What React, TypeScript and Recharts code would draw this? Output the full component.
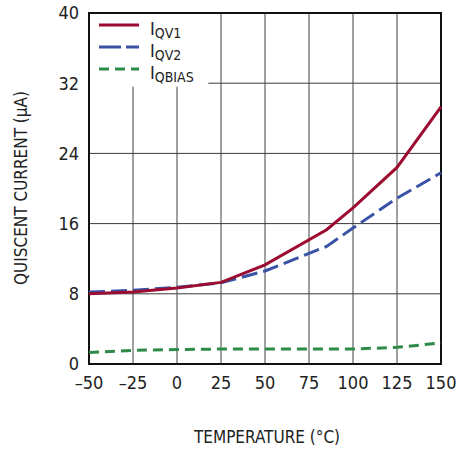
import { LineChart, Line, XAxis, YAxis, CartesianGrid, ReferenceArea } from 'recharts'

const temps = [-50, -25, 0, 25, 50, 85, 100, 125, 150]
const iqv1 = [8.0, 8.2, 8.65, 9.3, 11.3, 15.3, 17.8, 22.4, 29.3]
const iqv2 = [8.2, 8.4, 8.75, 9.25, 10.6, 13.4, 15.5, 18.9, 21.8]
const iqbias = [1.3, 1.55, 1.65, 1.7, 1.7, 1.7, 1.7, 1.9, 2.4]

const xTicks = [-50, -25, 0, 25, 50, 75, 100, 125, 150]
const yTicks = [0, 8, 16, 24, 32, 40]

const FONT = '"DejaVu Sans Condensed", "Liberation Sans", sans-serif'

const RED = '#9c0c30'
const BLUE = '#3a53a6'
const GREEN = '#2f8a47'

const data = temps.map((t, i) => ({ t, qv1: iqv1[i], qv2: iqv2[i], qbias: iqbias[i] }))

const legendRows = [
  { sub: 'QV1', color: RED, dash: undefined },
  { sub: 'QV2', color: BLUE, dash: '22 5' },
  { sub: 'QBIAS', color: GREEN, dash: '10 6' },
]

// legend drawn as an overlay so it doesn't eat into the plot area
function ChartLegend() {
  return (
    <svg width={120} height={72} style={{ position: 'absolute', left: 89, top: 13, display: 'block' }}>
      {legendRows.map((r, i) => {
        const y = 12 + i * 22
        return (
          <g key={r.sub}>
            <line x1={10} x2={50} y1={y} y2={y} stroke={r.color} strokeWidth={3} strokeDasharray={r.dash} />
            <text x={61} y={y + 10} fontFamily={FONT} fontSize={18} fill="#222">
              I
              <tspan fontSize={14} dy={3}>{r.sub}</tspan>
            </text>
          </g>
        )
      })}
    </svg>
  )
}

const fmt = (v: number) => (v < 0 ? '\u2013' + Math.abs(v) : String(v))

export default function App() {
  return (
    <div style={{ position: 'fixed', left: 0, top: 0, width: 456, height: 449, background: '#fff' }}>
      <LineChart width={456} height={449} data={data} margin={{ top: 13, right: 15, left: 0, bottom: 0 }}>
        <CartesianGrid horizontal={false} stroke="#808080" strokeWidth={1.5} />
        <CartesianGrid vertical={false} stroke="#3a3a3a" strokeWidth={1} />
        <XAxis
          dataKey="t"
          type="number"
          domain={[-50, 150]}
          ticks={xTicks}
          tickFormatter={fmt}
          axisLine={false}
          tickLine={false}
          tickSize={0}
          tickMargin={12}
          height={85}
          interval={0}
          tick={{ fontFamily: FONT, fontSize: 18, fill: '#222' }}
          label={{
            content: () => (
              <text x={267} y={443} textAnchor="middle" fontFamily={FONT} fontSize={17} fill="#222">
                TEMPERATURE (°C)
              </text>
            ),
          }}
        />
        <YAxis
          type="number"
          domain={[0, 40]}
          ticks={yTicks}
          axisLine={false}
          tickLine={false}
          tickSize={0}
          tickMargin={10}
          width={89}
          interval={0}
          tick={{ fontFamily: FONT, fontSize: 18, fill: '#222' }}
          label={{
            content: () => (
              <text
                x={0}
                y={0}
                transform="translate(27 188) rotate(-90)"
                textAnchor="middle"
                fontFamily={FONT}
                fontSize={17}
                fill="#222"
              >
                QUISCENT CURRENT (µA)
              </text>
            ),
          }}
        />
        <ReferenceArea x1={-50} x2={17.8} y1={31.6} y2={40} fill="#fff" fillOpacity={1} stroke="none" />
        <Line dataKey="qbias" stroke={GREEN} strokeWidth={3} strokeDasharray="10 6" dot={false} isAnimationActive={false} />
        <Line dataKey="qv2" stroke={BLUE} strokeWidth={3} strokeDasharray="16 6" dot={false} isAnimationActive={false} />
        <Line dataKey="qv1" stroke={RED} strokeWidth={3} dot={false} isAnimationActive={false} />
        <ReferenceArea x1={-50} x2={150} y1={0} y2={40} fill="none" stroke="#111" strokeWidth={2} />
      </LineChart>
      <ChartLegend />
    </div>
  )
}
